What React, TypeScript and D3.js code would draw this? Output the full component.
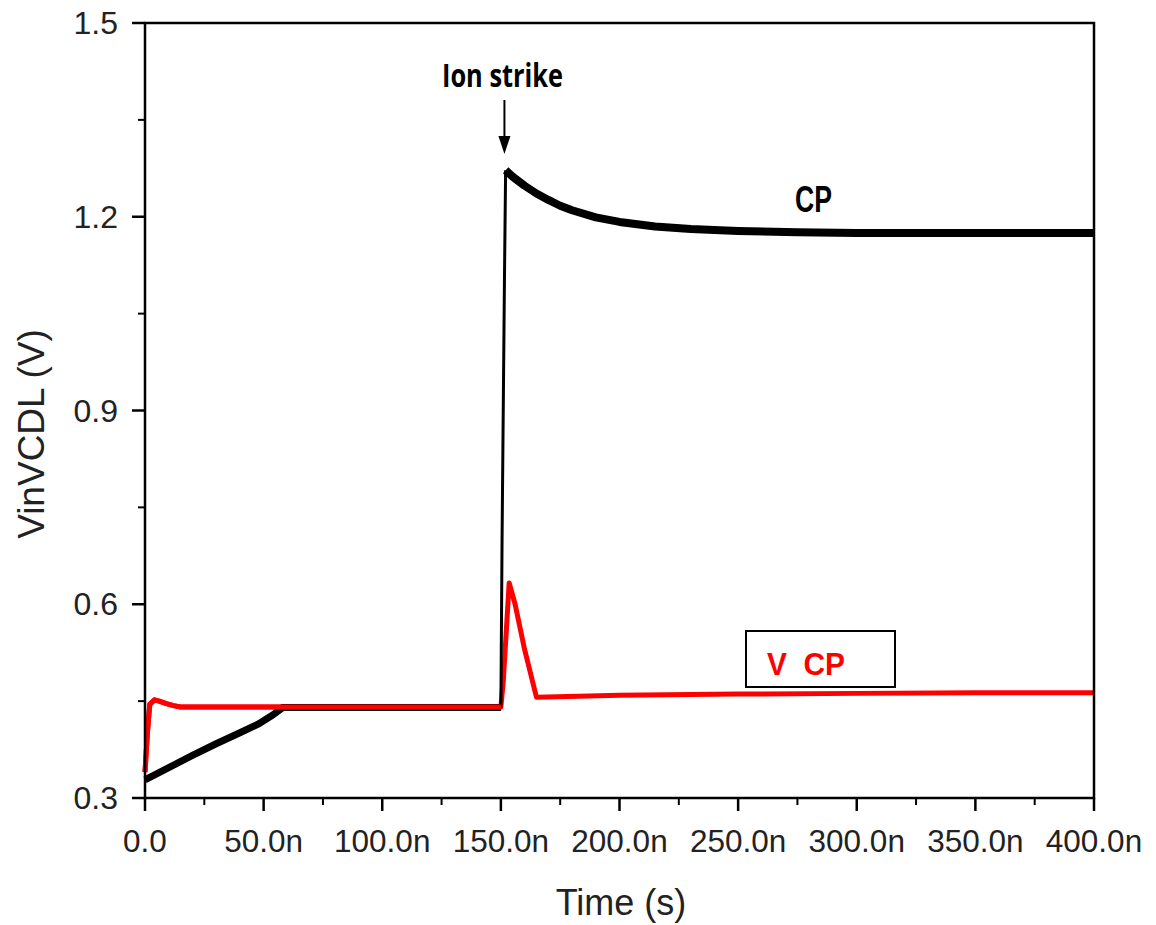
import React from "react";
import * as d3 from "d3";

// Time in ns, voltage in V
const cpRampT = [0, 10, 20, 30, 40, 48, 54, 58, 150];
const cpRampV = [0.328, 0.347, 0.366, 0.384, 0.401, 0.415, 0.429, 0.44, 0.44];
const cpRiseT = [150, 150.5, 151.5, 152];
const cpRiseV = [0.44, 0.7, 1.1, 1.272];
const cpDecayT = [152, 155, 160, 165, 170, 175, 180, 190, 200, 215, 230, 250, 275, 300, 350, 400];
const cpDecayV = [1.272, 1.262, 1.248, 1.236, 1.226, 1.217, 1.21, 1.199, 1.192, 1.185, 1.181, 1.178, 1.176, 1.175, 1.175, 1.175];

const vcpT = [0, 1, 2, 4, 6, 9, 12, 15, 20, 60, 100, 150, 151, 153.5, 156, 160, 165, 200, 250, 300, 350, 400];
const vcpV = [0.34, 0.4, 0.445, 0.452, 0.45, 0.446, 0.443, 0.441, 0.441, 0.441, 0.441, 0.441, 0.48, 0.633, 0.6, 0.53, 0.456, 0.459, 0.461, 0.462, 0.463, 0.463];

const xTicks = [0, 50, 100, 150, 200, 250, 300, 350, 400];
const xTickLabels = ["0.0", "50.0n", "100.0n", "150.0n", "200.0n", "250.0n", "300.0n", "350.0n", "400.0n"];
const yTicks = [0.3, 0.6, 0.9, 1.2, 1.5];
const yTickLabels = ["0.3", "0.6", "0.9", "1.2", "1.5"];

const W = 1156, H = 925;
const L = 145, R = 1094, T = 23, B = 798;

export default function App() {
  const x = d3.scaleLinear().domain([0, 400]).range([L, R]);
  const y = d3.scaleLinear().domain([0.3, 1.5]).range([B, T]);
  const line = d3.line<[number, number]>().x(d => x(d[0])).y(d => y(d[1]));
  const zip = (a: number[], b: number[]) => a.map((t, i) => [t, b[i]] as [number, number]);

  const xMinor = d3.range(25, 400, 50);
  const yMinor = d3.range(0.45, 1.5, 0.3);
  const tickFont = "'Liberation Sans', Arial, sans-serif";
  const ax = x(151.5);

  return (
    <svg width={W} height={H} style={{ position: "absolute", left: 0, top: 0 }}>
      <rect width={W} height={H} fill="#fff" />
      {/* curves */}
      <path d={line(zip(vcpT, vcpV)) || ""} fill="none" stroke="#ff0000" strokeWidth={5} strokeLinejoin="round" />
      <path d={line(zip(cpRampT, cpRampV)) || ""} fill="none" stroke="#000" strokeWidth={7} strokeLinejoin="round" />
      <path d={line(zip(cpRiseT, cpRiseV)) || ""} fill="none" stroke="#000" strokeWidth={3} />
      <path d={line(zip(cpDecayT, cpDecayV)) || ""} fill="none" stroke="#000" strokeWidth={8} strokeLinejoin="round" />
      {/* red curve is drawn over black on the plateau */}
      <path d={line(zip(vcpT.slice(0, 12), vcpV.slice(0, 12))) || ""} fill="none" stroke="#ff0000" strokeWidth={5} strokeLinejoin="round" />

      {/* frame */}
      <rect x={L} y={T} width={R - L} height={B - T} fill="none" stroke="#000" strokeWidth={2.5} />
      {xTicks.map(t => (
        <line key={"xt" + t} x1={x(t)} x2={x(t)} y1={B} y2={B + 13} stroke="#000" strokeWidth={2.5} />
      ))}
      {xMinor.map(t => (
        <line key={"xm" + t} x1={x(t)} x2={x(t)} y1={B} y2={B + 7} stroke="#000" strokeWidth={2} />
      ))}
      {yTicks.map(v => (
        <line key={"yt" + v} x1={L - 13} x2={L} y1={y(v)} y2={y(v)} stroke="#000" strokeWidth={2.5} />
      ))}
      {yMinor.map(v => (
        <line key={"ym" + v} x1={L - 7} x2={L} y1={y(v)} y2={y(v)} stroke="#000" strokeWidth={2} />
      ))}
      {xTicks.map((t, i) => (
        <text key={"xl" + t} x={x(t)} y={852} textAnchor="middle" fontFamily={tickFont} fontSize={31.5} fill="#222">
          {xTickLabels[i]}
        </text>
      ))}
      {yTicks.map((v, i) => (
        <text key={"yl" + v} x={118} y={y(v) + 11} textAnchor="end" fontFamily={tickFont} fontSize={32} fill="#222">
          {yTickLabels[i]}
        </text>
      ))}
      <text x={621} y={915} textAnchor="middle" fontFamily={tickFont} fontSize={36} fill="#222">Time (s)</text>
      <text transform={`translate(44, 434) rotate(-90)`} textAnchor="middle" fontFamily={tickFont} fontSize={37} fill="#222">VinVCDL (V)</text>

      {/* annotations */}
      <text x={442} y={87} fontFamily="'Open Sans', sans-serif" fontWeight={700} fontSize={32} fill="#000" textLength={121} lengthAdjust="spacingAndGlyphs">Ion strike</text>
      <line x1={ax} x2={ax} y1={100} y2={138} stroke="#000" strokeWidth={2} />
      <path d={`M${ax - 6},136 L${ax + 6},136 L${ax},154 Z`} fill="#000" />
      <text x={795} y={212} fontFamily={tickFont} fontWeight={700} fontSize={37} fill="#000" textLength={37} lengthAdjust="spacingAndGlyphs">CP</text>
      <rect x={746} y={631} width={149} height={56} fill="#fff" stroke="#000" strokeWidth={2} />
      <text x={767} y={675} fontFamily={tickFont} fontWeight={700} fontSize={32} fill="#ff0000" textLength={78} lengthAdjust="spacingAndGlyphs" style={{ whiteSpace: "pre" }}>V  CP</text>
    </svg>
  );
}
